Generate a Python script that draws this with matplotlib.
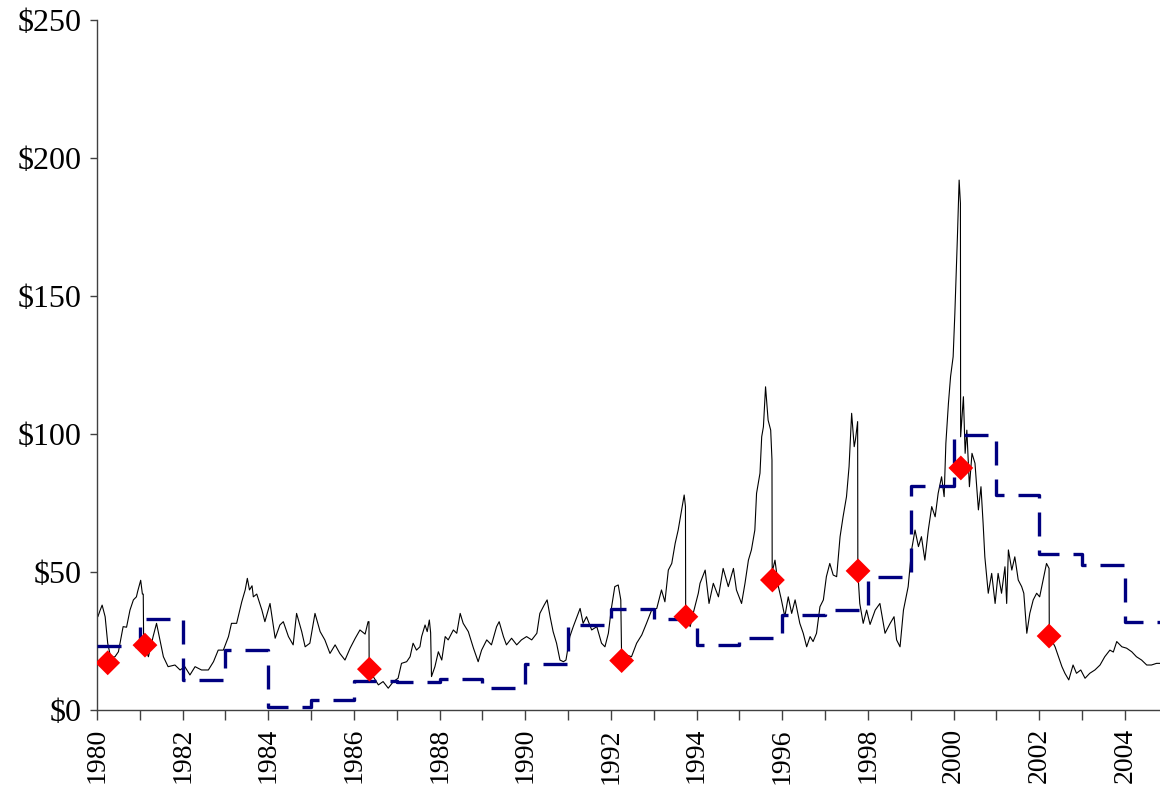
import matplotlib

matplotlib.use("Agg")
import matplotlib.pyplot as plt
from matplotlib.ticker import FuncFormatter, MultipleLocator

# daily price (sparse), with the split drops
price_year = [
    1980.00, 1980.02, 1980.07, 1980.12, 1980.19, 1980.25, 1980.32, 1980.42, 1980.50, 1980.61,
    1980.69, 1980.77, 1980.85, 1980.92, 1980.95, 1981.02, 1981.06, 1981.08, 1981.09, 1981.14,
    1981.20, 1981.31, 1981.39, 1981.47, 1981.55, 1981.66, 1981.82, 1981.94, 1982.05, 1982.17,
    1982.29, 1982.44, 1982.60, 1982.72, 1982.83, 1982.95, 1983.07, 1983.14, 1983.26, 1983.38,
    1983.46, 1983.51, 1983.56, 1983.62, 1983.65, 1983.73, 1983.85, 1983.92, 1984.04, 1984.16,
    1984.27, 1984.35, 1984.47, 1984.58, 1984.66, 1984.78, 1984.86, 1984.97, 1985.09, 1985.21,
    1985.32, 1985.44, 1985.56, 1985.67, 1985.79, 1985.91, 1986.03, 1986.14, 1986.26, 1986.33,
    1986.35, 1986.355, 1986.45, 1986.57, 1986.68, 1986.80, 1986.92, 1987.03, 1987.11, 1987.23,
    1987.31, 1987.38, 1987.46, 1987.54, 1987.58, 1987.66, 1987.71, 1987.76, 1987.79, 1987.81,
    1987.89, 1987.97, 1988.05, 1988.13, 1988.20, 1988.32, 1988.40, 1988.48, 1988.55, 1988.67,
    1988.79, 1988.90, 1988.98, 1989.10, 1989.21, 1989.33, 1989.39, 1989.49, 1989.56, 1989.68,
    1989.80, 1989.91, 1990.03, 1990.15, 1990.27, 1990.34, 1990.44, 1990.51, 1990.58, 1990.65,
    1990.73, 1990.81, 1990.89, 1990.95, 1991.04, 1991.12, 1991.28, 1991.35, 1991.43, 1991.55,
    1991.67, 1991.78, 1991.86, 1991.94, 1992.01, 1992.09, 1992.17, 1992.23, 1992.25, 1992.37,
    1992.48, 1992.60, 1992.72, 1992.83, 1992.95, 1993.07, 1993.18, 1993.26, 1993.34, 1993.42,
    1993.50, 1993.57, 1993.65, 1993.71, 1993.74, 1993.745, 1993.85, 1993.92, 1994.04, 1994.08,
    1994.20, 1994.29, 1994.39, 1994.51, 1994.62, 1994.74, 1994.86, 1994.93, 1995.05, 1995.13,
    1995.21, 1995.28, 1995.36, 1995.40, 1995.48, 1995.52, 1995.56, 1995.61, 1995.67, 1995.73,
    1995.76, 1995.765, 1995.83, 1995.91, 1995.98, 1996.06, 1996.14, 1996.22, 1996.30, 1996.41,
    1996.49, 1996.57, 1996.65, 1996.72, 1996.80, 1996.88, 1996.96, 1997.03, 1997.11, 1997.19,
    1997.27, 1997.35, 1997.42, 1997.50, 1997.56, 1997.62, 1997.68, 1997.71, 1997.76, 1997.765,
    1997.81, 1997.89, 1997.97, 1998.05, 1998.17, 1998.28, 1998.40, 1998.52, 1998.61, 1998.67,
    1998.75, 1998.83, 1998.94, 1999.02, 1999.10, 1999.18, 1999.25, 1999.33, 1999.41, 1999.49,
    1999.57, 1999.64, 1999.72, 1999.78, 1999.82, 1999.88, 1999.93, 1999.99, 2000.03, 2000.09,
    2000.13, 2000.16, 2000.165, 2000.23, 2000.27, 2000.31, 2000.37, 2000.43, 2000.50, 2000.58,
    2000.64, 2000.69, 2000.73, 2000.81, 2000.89, 2000.97, 2001.04, 2001.12, 2001.20, 2001.24,
    2001.28, 2001.36, 2001.43, 2001.51, 2001.59, 2001.64, 2001.71, 2001.78, 2001.86, 2001.94,
    2002.01, 2002.09, 2002.17, 2002.23, 2002.235, 2002.37, 2002.45, 2002.53, 2002.60, 2002.69,
    2002.79, 2002.87, 2002.97, 2003.07, 2003.18, 2003.30, 2003.42, 2003.53, 2003.65, 2003.73,
    2003.81, 2003.93, 2004.04, 2004.16, 2004.27, 2004.39, 2004.51, 2004.62, 2004.74, 2004.82,
]
price = [
    35.0, 33.8, 36.0, 38.0, 33.8, 24.2, 19.0, 19.3, 21.1, 30.2,
    30.0, 36.2, 39.9, 41.0, 43.0, 47.0, 42.0, 42.0, 23.0, 22.0,
    19.3, 26.6, 31.4, 25.4, 19.3, 15.7, 16.3, 14.5, 15.7, 12.7,
    15.7, 14.5, 14.5, 17.5, 21.7, 21.7, 26.6, 31.4, 31.4, 39.2,
    43.5, 47.7, 43.5, 45.0, 41.0, 42.0, 36.2, 32.0, 38.6, 26.0,
    30.8, 32.0, 26.6, 23.6, 35.0, 28.4, 22.9, 24.2, 35.0, 28.4,
    25.4, 20.5, 23.6, 20.5, 18.1, 22.4, 26.0, 29.0, 27.5, 32.0,
    32.0, 15.0, 12.1, 9.1, 10.3, 7.9, 10.3, 11.5, 16.9, 17.5,
    19.3, 24.2, 21.7, 22.9, 26.6, 30.8, 28.4, 32.6, 28.0, 12.1,
    15.7, 21.1, 18.1, 26.6, 25.4, 29.0, 27.8, 35.0, 31.4, 28.4,
    22.4, 17.5, 21.7, 25.4, 23.6, 30.2, 32.0, 26.6, 23.6, 26.0,
    23.6, 25.4, 26.6, 25.4, 27.8, 35.0, 38.0, 39.9, 33.8, 28.4,
    24.2, 18.1, 17.5, 18.1, 26.6, 30.2, 36.8, 31.4, 33.8, 29.0,
    30.2, 24.2, 22.9, 27.8, 36.8, 44.7, 45.3, 39.9, 18.0, 19.9,
    19.3, 24.2, 27.2, 31.4, 36.2, 36.8, 43.5, 39.2, 50.7, 53.1,
    60.4, 65.2, 72.5, 77.9, 73.7, 35.0, 30.2, 35.0, 42.3, 45.9,
    50.7, 38.6, 45.9, 41.0, 51.3, 44.7, 51.3, 43.5, 38.6, 45.9,
    54.3, 58.0, 65.2, 78.5, 85.8, 99.0, 102.6, 117.1, 105.0, 101.4,
    90.6, 50.0, 54.3, 44.7, 39.9, 33.8, 41.0, 35.0, 39.9, 31.4,
    27.8, 22.9, 26.6, 24.8, 27.8, 37.4, 39.9, 48.3, 53.1, 48.9,
    48.3, 62.8, 70.0, 77.3, 88.2, 107.5, 95.4, 98.0, 104.5, 50.0,
    38.6, 31.4, 36.2, 31.0, 36.2, 38.6, 27.8, 31.4, 33.8, 25.4,
    22.9, 36.2, 44.7, 58.0, 65.2, 59.2, 62.8, 54.3, 65.2, 73.7,
    70.0, 78.5, 84.5, 77.3, 96.6, 111.1, 120.8, 128.0, 143.7, 171.5,
    192.0, 183.6, 99.0, 113.5, 93.0, 101.4, 80.9, 93.0, 89.4, 72.5,
    80.9, 67.6, 55.5, 42.3, 49.5, 38.6, 49.5, 42.3, 51.9, 38.6,
    58.0, 50.7, 55.5, 47.1, 44.7, 42.3, 27.8, 35.0, 39.9, 42.3,
    41.0, 47.1, 53.1, 51.3, 27.0, 22.9, 19.3, 15.7, 13.3, 10.9,
    16.3, 13.3, 14.5, 11.5, 13.3, 14.5, 16.3, 19.3, 21.7, 21.0,
    24.8, 22.9, 22.4, 21.1, 19.3, 18.1, 16.3, 16.3, 16.9, 16.9,
]

# annual level (dashed step line)
step_year = [1980, 1981, 1982, 1983, 1984, 1985, 1986, 1987, 1988, 1989, 1990, 1991, 1992,
             1993, 1994, 1995, 1996, 1997, 1998, 1999, 2000, 2001, 2002, 2003, 2004, 2005]
step_value = [23.3, 33.0, 10.7, 21.9, 1.2, 3.8, 10.5, 10.3, 11.2, 8.1, 16.7, 30.8, 36.6,
              33.1, 23.5, 26.2, 34.4, 36.3, 48.3, 81.3, 99.5, 77.8, 56.7, 52.5, 31.8, 31.8]

# split dates (red diamonds)
split_year = [1980.25, 1981.12, 1986.36, 1992.25, 1993.75, 1995.77, 1997.77, 2000.17, 2002.23]
split_price = [17.1, 23.5, 14.8, 17.9, 33.8, 47.1, 50.4, 87.7, 26.8]

plt.rcParams["font.family"] = ["Liberation Serif", "DejaVu Serif"]

fig = plt.figure(figsize=(11.6, 7.94), dpi=100)
ax = fig.add_axes([97 / 1160, 84 / 794, 1063 / 1160, 690 / 794])

ax.plot(price_year, price, color="black", lw=0.8, zorder=2)
ax.step(step_year, step_value, where="post", color="#000080", lw=2.4,
        linestyle=(0, (7.2, 4.2)), dash_capstyle="butt", zorder=3)
ax.scatter(split_year, split_price, marker="D", s=160, color="#ff0000",
           edgecolors="none", zorder=4)

ax.set_xlim(1980, 2004.82)
ax.set_ylim(0, 250)
ax.xaxis.set_major_locator(MultipleLocator(2))
ax.xaxis.set_minor_locator(MultipleLocator(1))
ax.yaxis.set_major_locator(MultipleLocator(50))
ax.yaxis.set_major_formatter(FuncFormatter(lambda v, _: f"${v:.0f}"))
ax.xaxis.set_major_formatter(FuncFormatter(lambda v, _: f"{v:.0f}"))

for s in ("top", "right"):
    ax.spines[s].set_visible(False)
for s in ("left", "bottom"):
    ax.spines[s].set_color("#404040")
    ax.spines[s].set_linewidth(1.0)

ax.tick_params(axis="x", which="both", direction="out", length=7, width=1,
               color="#404040", labelsize=20, pad=6, labelrotation=90)
ax.tick_params(axis="y", direction="out", length=5, width=1, color="#404040",
               labelsize=23, pad=6)

fig.savefig("out.png", dpi=100)
plt.close(fig)
